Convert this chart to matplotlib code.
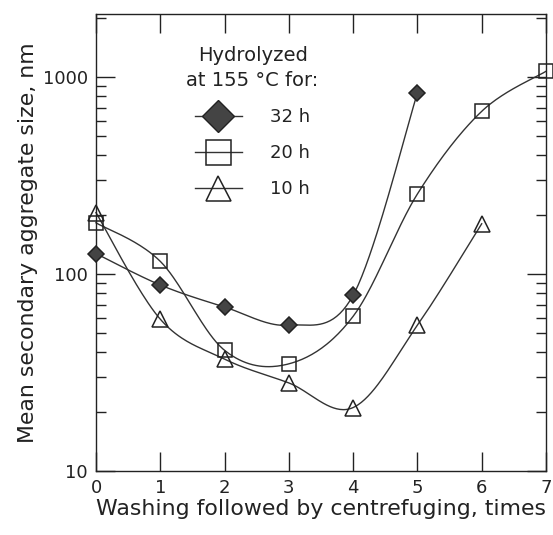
"""
Mean secondary aggregate size vs. number of washing/centrefuging cycles
for powders hydrolyzed at 155 C for different times.
"""

import matplotlib
matplotlib.use('Agg')
import matplotlib.pyplot as plt
from matplotlib.lines import Line2D
from matplotlib.ticker import LogLocator, FixedLocator, NullFormatter
import numpy as np

# --- data ---
x_32h = [0, 1, 2, 3, 4, 5]
y_32h = [127, 88, 68, 55, 78, 830]

x_20h = [0, 1, 2, 3, 4, 5, 6, 7]
y_20h = [182, 116, 41, 35, 61, 255, 670, 1070]

x_10h = [0, 1, 2, 3, 4, 5, 6]
y_10h = [205, 59, 37, 28, 21, 55, 180]

labels = ['32 h', '20 h', '10 h']
x_ticks = [0, 1, 2, 3, 4, 5, 6, 7]
y_ticks = [10, 100, 1000]


def smooth(x, y, n=40):
    """Excel-like smoothed line: Bezier segments with Catmull-Rom controls,
    built in (x, log10 y) space."""
    P = np.column_stack([np.asarray(x, float), np.log10(y)])
    P = np.vstack([P[0], P, P[-1]])  # duplicate end points
    t = np.linspace(0, 1, n)[:, None]
    out = []
    for i in range(1, len(P) - 2):
        p0, p3 = P[i], P[i + 1]
        c1 = p0 + (P[i + 1] - P[i - 1]) / 6
        c2 = p3 - (P[i + 2] - P[i]) / 6
        seg = ((1 - t)**3 * p0 + 3 * (1 - t)**2 * t * c1
               + 3 * (1 - t) * t**2 * c2 + t**3 * p3)
        out.append(seg)
    out = np.vstack(out)
    return out[:, 0], 10 ** out[:, 1]


plt.rcParams['font.family'] = 'DejaVu Sans'

fig = plt.figure(figsize=(5.53, 5.35), dpi=100)
ax = fig.add_axes([0.1736, 0.1196, 0.8137, 0.8542])

line_col = '#333333'

series = [
    (x_32h, y_32h, dict(marker='D', ms=8, mfc='#444444', mec='#222222')),
    (x_20h, y_20h, dict(marker='s', ms=10, mfc='none', mec='#222222')),
    (x_10h, y_10h, dict(marker='^', ms=11, mfc='none', mec='#222222')),
]

for xd, yd, mk in series:
    xs, ys = smooth(xd, yd)
    ax.plot(xs, ys, color=line_col, lw=1.0, clip_on=False, zorder=2)
    ax.plot(xd, yd, ls='none', mew=1.1, clip_on=False, zorder=3, **mk)

ax.set_yscale('log')
ax.set_xlim(0, 7)
ax.set_ylim(10, 2090)

ax.xaxis.set_major_locator(FixedLocator(x_ticks))
ax.yaxis.set_major_locator(FixedLocator(y_ticks))
ax.yaxis.set_minor_locator(LogLocator(base=10, subs=np.arange(2, 10)))
ax.yaxis.set_minor_formatter(NullFormatter())
ax.set_yticklabels([str(v) for v in y_ticks])

ax.tick_params(which='both', direction='in', top=True, right=True,
               labelsize=13, width=1.0, colors='#222222', pad=6)
ax.tick_params(which='major', length=14)
ax.tick_params(which='minor', length=7)
ax.tick_params(axis='x', which='minor', top=False, bottom=False)

for s in ax.spines.values():
    s.set_linewidth(1.0)
    s.set_color('#222222')

ax.set_xlabel('Washing followed by centrefuging, times', fontsize=15.8,
              color='#222222', labelpad=1)
ax.set_ylabel('Mean secondary aggregate size, nm', fontsize=15.8,
              color='#222222', labelpad=3)

# legend with larger markers
handles = [
    Line2D([], [], color=line_col, lw=1.0, marker='D', ms=16, mfc='#444444', mec='#222222'),
    Line2D([], [], color=line_col, lw=1.0, marker='s', ms=18, mfc='none', mec='#222222', mew=1.1),
    Line2D([], [], color=line_col, lw=1.0, marker='^', ms=18, mfc='none', mec='#222222', mew=1.1),
]
leg = ax.legend(handles, labels, title='Hydrolyzed\nat 155 \u00b0C for:',
                loc='upper left', bbox_to_anchor=(0.165, 0.965), frameon=False,
                fontsize=13, title_fontsize=14, handlelength=2.6,
                handletextpad=1.6, labelspacing=1.0)
for t in leg.get_texts():
    t.set_color('#222222')
title = leg.get_title()
title.set_color('#222222')
title.set_multialignment('center')
title.set_linespacing(1.4)

fig.savefig('out.png', dpi=100)
